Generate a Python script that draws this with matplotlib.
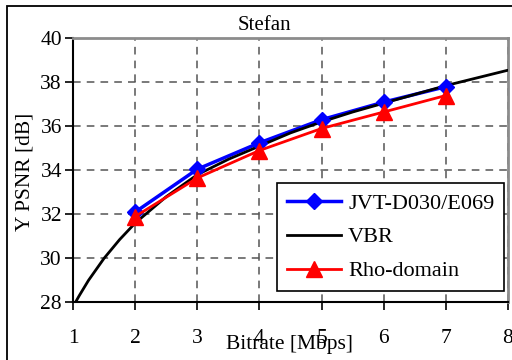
import numpy as np
import matplotlib
matplotlib.use("Agg")
import matplotlib.pyplot as plt
from matplotlib.lines import Line2D
from matplotlib.patches import Rectangle

plt.rcParams['font.family'] = ['Liberation Serif', 'DejaVu Serif']

# values
bitrate = [2, 3, 4, 5, 6, 7]
psnr_jvt = [32.1, 34.05, 35.25, 36.3, 37.1, 37.8]
psnr_rho = [31.9, 33.65, 34.9, 35.9, 36.65, 37.4]

# VBR curve, read at finer steps
vbr_rate = [1.0, 1.1, 1.25, 1.5, 1.75, 2.0, 2.5, 3.0, 3.5, 4.0, 4.5, 5.0, 5.5, 6.0, 6.5, 7.0, 7.5, 8.0]
vbr_psnr = [27.8, 28.3, 29.0, 30.0, 30.85, 31.6, 32.8, 33.8, 34.5, 35.1, 35.7, 36.2,
            36.65, 37.05, 37.45, 37.85, 38.2, 38.55]

x_ticks = [1, 2, 3, 4, 5, 6, 7, 8]
y_ticks = [28, 30, 32, 34, 36, 38, 40]

fig = plt.figure(figsize=(5.12, 3.6), dpi=100)
ax = fig.add_axes([73 / 512, 1 - 302.3 / 360, 435 / 512, 264 / 360])

# outer frame around the whole figure (cropped at right/bottom)
fig.patches.append(Rectangle((7 / 512, -0.1), 1.2, 1 - 6 / 360 + 0.1, transform=fig.transFigure,
                             fill=False, edgecolor='black', linewidth=1.3))

ax.plot(bitrate, psnr_jvt, color='blue', linewidth=2.5, zorder=3)
ax.plot(vbr_rate, vbr_psnr, color='black', linewidth=2, zorder=4)
ax.plot(bitrate, psnr_jvt, color='blue', linestyle='none', marker='D', markersize=8.5, zorder=5)
ax.plot(bitrate, psnr_rho, color='red', linewidth=2, marker='^', markersize=11, zorder=6)

ax.set_xlim(1, 8)
ax.set_ylim(28, 40)
ax.set_xticks(x_ticks)
ax.set_yticks(y_ticks)
ax.tick_params(axis='both', labelsize=15.5, direction='out', length=6, width=1.2, color='black')
ax.tick_params(axis='x', pad=13)
ax.tick_params(axis='y', pad=2)
ax.grid(True, color='#555555', linestyle=(0, (5, 4)), linewidth=1.1)
ax.set_axisbelow(True)

for s in ['left', 'bottom']:
    ax.spines[s].set_color('black')
    ax.spines[s].set_linewidth(1.5)
for s in ['top', 'right']:
    ax.spines[s].set_color('#8c8c8c')
    ax.spines[s].set_linewidth(2)

fig.text(264 / 512, 1 - 25 / 360, 'Stefan', ha='center', va='center', fontsize=15)
fig.text(290 / 512, 1 - 345 / 360, 'Bitrate [Mbps]', ha='center', va='center', fontsize=15.5)
fig.text(25 / 512, 1 - 172 / 360, 'Y PSNR [dB]', ha='center', va='center', fontsize=15.5, rotation=90)

handles = [
    Line2D([], [], color='blue', linewidth=2.5, marker='D', markersize=8.5),
    Line2D([], [], color='black', linewidth=2),
    Line2D([], [], color='red', linewidth=2, marker='^', markersize=11),
]
labels = ['JVT-D030/E069', 'VBR', 'Rho-domain']
leg = ax.legend(handles, labels, loc='upper left', bbox_to_anchor=((277 - 73) / 435, (302.3 - 183) / 264),
                fontsize=16, frameon=True, fancybox=False, edgecolor='black', framealpha=1,
                borderpad=0.45, labelspacing=0.6, handlelength=2.45, handletextpad=0.3,
                borderaxespad=0)
leg.get_frame().set_linewidth(1.2)
leg.set_zorder(10)

fig.savefig('out.png', dpi=100)
